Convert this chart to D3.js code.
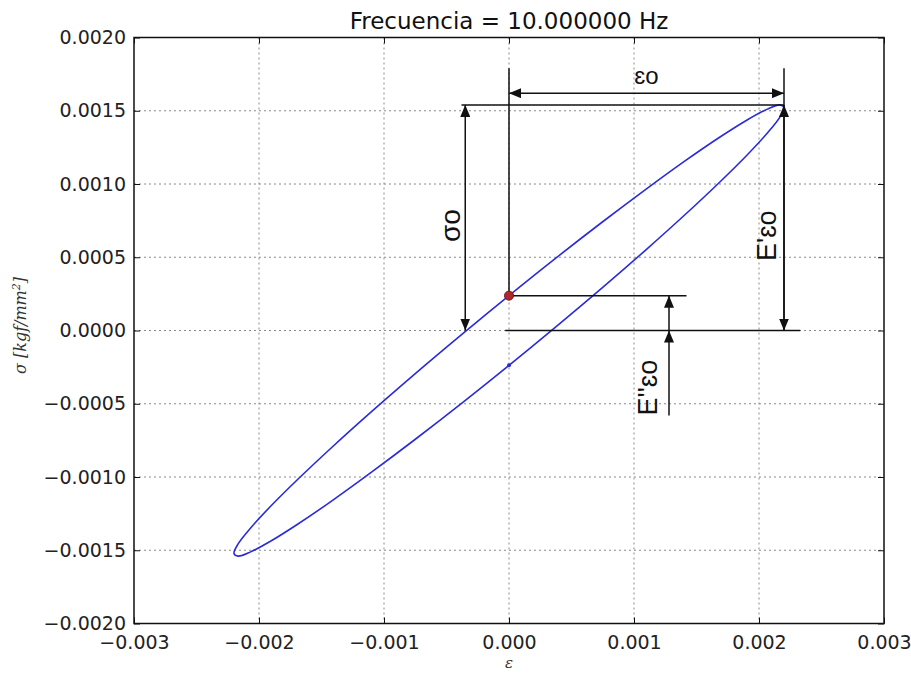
<!DOCTYPE html>
<html>
<head>
<meta charset="utf-8">
<script src="https://cdn.jsdelivr.net/npm/d3@7/dist/d3.min.js"></script>
<style>
  html, body { margin: 0; padding: 0; background: #fff; }
  svg { display: block; }
  .tick text { font-family: "DejaVu Sans", sans-serif; font-size: 19px; fill: #222; }
  .note { font-family: "Liberation Sans", Arial, sans-serif; fill: #111; }
</style>
</head>
<body>
<svg id="chart" width="911" height="677"></svg>
<script>
const WIDTH = 911;
const HEIGHT = 677;
const MARGIN = { top: 37.5, right: 27, bottom: 53.5, left: 134 };

const TITLE = "Frecuencia = 10.000000 Hz";
const X_TICKS = [-0.003, -0.002, -0.001, 0, 0.001, 0.002, 0.003];
const Y_TICKS = [-0.002, -0.0015, -0.001, -0.0005, 0, 0.0005, 0.001, 0.0015, 0.002];

// one full loop of the response, strain vs stress
const strain = [
  0, 0.000382, 0.000752, 0.001100, 0.001414, 0.001685, 0.001905, 0.002067, 0.002167,
  0.002200, 0.002167, 0.002067, 0.001905, 0.001685, 0.001414, 0.001100, 0.000752, 0.000382,
  0, -0.000382, -0.000752, -0.001100, -0.001414, -0.001685, -0.001905, -0.002067, -0.002167,
  -0.002200, -0.002167, -0.002067, -0.001905, -0.001685, -0.001414, -0.001100, -0.000752, -0.000382
];
const stress = [
  0.000238, 0.000499, 0.000744, 0.000967, 0.001161, 0.001319, 0.001437, 0.001511, 0.001540,
  0.001522, 0.001457, 0.001348, 0.001198, 0.001012, 0.000795, 0.000554, 0.000296, 0.000030,
  -0.000238, -0.000499, -0.000744, -0.000967, -0.001161, -0.001319, -0.001437, -0.001511, -0.001540,
  -0.001522, -0.001457, -0.001348, -0.001198, -0.001012, -0.000795, -0.000554, -0.000296, -0.000030
];

// amplitudes used by the dimension arrows
const EPS0 = 0.0022;       // strain amplitude
const SIGMA0 = 0.00154;    // stress amplitude
const E2_EPS0 = 0.000238;  // stress at zero strain

const svg = d3.select("#chart");
const innerW = WIDTH - MARGIN.left - MARGIN.right;
const innerH = HEIGHT - MARGIN.top - MARGIN.bottom;

const x = d3.scaleLinear().domain([-0.003, 0.003]).range([MARGIN.left, MARGIN.left + innerW]);
const y = d3.scaleLinear().domain([-0.002, 0.002]).range([MARGIN.top + innerH, MARGIN.top]);

// arrowhead
const defs = svg.append("defs");
defs.append("marker")
  .attr("id", "head")
  .attr("viewBox", "0 0 12 10")
  .attr("refX", 12).attr("refY", 5)
  .attr("markerWidth", 12).attr("markerHeight", 10)
  .attr("markerUnits", "userSpaceOnUse")
  .attr("orient", "auto-start-reverse")
  .append("path").attr("d", "M0,0 L12,5 L0,10 Z").attr("fill", "#111");

// grid
const grid = svg.append("g").attr("stroke", "#8a8a8a").attr("stroke-width", 1).attr("stroke-dasharray", "2,3");
grid.selectAll(".gx").data(X_TICKS.slice(1, -1)).enter().append("line")
  .attr("x1", d => x(d)).attr("x2", d => x(d))
  .attr("y1", MARGIN.top).attr("y2", MARGIN.top + innerH);
grid.selectAll(".gy").data(Y_TICKS.slice(1, -1)).enter().append("line")
  .attr("x1", MARGIN.left).attr("x2", MARGIN.left + innerW)
  .attr("y1", d => y(d)).attr("y2", d => y(d));

// axes, ticks pointing inward
const fmtX = v => d3.format(".3f")(v).replace("-", "\u2212");
const fmtY = v => d3.format(".4f")(v).replace("-", "\u2212");

const xAxis = svg.append("g")
  .attr("transform", `translate(0, ${MARGIN.top + innerH})`)
  .call(d3.axisBottom(x).tickValues(X_TICKS).tickSize(-6).tickPadding(12).tickFormat(fmtX));
svg.append("g")
  .attr("transform", `translate(${MARGIN.left}, 0)`)
  .call(d3.axisLeft(y).tickValues(Y_TICKS).tickSize(-6).tickPadding(8).tickFormat(fmtY));
svg.append("g")
  .attr("transform", `translate(0, ${MARGIN.top})`)
  .call(d3.axisTop(x).tickValues(X_TICKS).tickSize(-6).tickFormat(""));
svg.append("g")
  .attr("transform", `translate(${MARGIN.left + innerW}, 0)`)
  .call(d3.axisRight(y).tickValues(Y_TICKS).tickSize(-6).tickFormat(""));

svg.selectAll(".domain").remove();
svg.selectAll(".tick line").attr("stroke", "#111");
xAxis.selectAll(".tick text").attr("dy", "0.71em");

svg.append("rect")
  .attr("x", MARGIN.left).attr("y", MARGIN.top)
  .attr("width", innerW).attr("height", innerH)
  .attr("fill", "none").attr("stroke", "#111").attr("stroke-width", 1.5);

// hysteresis loop
const loop = strain.map((e, i) => [e, stress[i]]);
svg.append("path")
  .datum(loop)
  .attr("fill", "none")
  .attr("stroke", "#2b2bd9")
  .attr("stroke-width", 1.6)
  .attr("d", d3.line().x(d => x(d[0])).y(d => y(d[1])).curve(d3.curveCatmullRomClosed.alpha(0.5)));

// start point of the loop
svg.append("circle")
  .attr("cx", x(strain[18])).attr("cy", y(stress[18])).attr("r", 2)
  .attr("fill", "#2b2bd9");

// dimension lines
const ann = svg.append("g").attr("stroke", "#111").attr("stroke-width", 1.5).attr("fill", "none");
const seg = (x1, y1, x2, y2) => ann.append("line")
  .attr("x1", x(x1)).attr("y1", y(y1)).attr("x2", x(x2)).attr("y2", y(y2));

// extension lines
seg(0, E2_EPS0, 0, 0.00179);
seg(EPS0, 0, EPS0, 0.00179);
seg(-0.00038, SIGMA0, EPS0, SIGMA0);
seg(-0.00003, 0, 0.00233, 0);
seg(0, E2_EPS0, 0.00142, E2_EPS0);

// eps0 arrow
seg(0, 0.00162, EPS0, 0.00162).attr("marker-start", "url(#head)").attr("marker-end", "url(#head)");
// sigma0 arrow
seg(-0.00035, SIGMA0, -0.00035, 0).attr("marker-start", "url(#head)").attr("marker-end", "url(#head)");
// E' eps0 arrow
seg(EPS0, SIGMA0, EPS0, 0).attr("marker-start", "url(#head)").attr("marker-end", "url(#head)");
// E'' eps0 arrows, pointing up from below
seg(0.00128, -0.00058, 0.00128, 0).attr("marker-end", "url(#head)");
seg(0.00128, 0, 0.00128, E2_EPS0).attr("marker-end", "url(#head)");

// marker at zero strain on the loop
svg.append("circle")
  .attr("cx", x(0)).attr("cy", y(E2_EPS0)).attr("r", 4.5)
  .attr("fill", "#b0262a").attr("stroke", "#7a1518").attr("stroke-width", 1);

// labels
svg.append("text").attr("class", "note")
  .attr("x", (x(0) + x(EPS0)) / 2).attr("y", 84)
  .attr("text-anchor", "middle").attr("font-size", 24)
  .text("\u025Bo");

svg.append("text").attr("class", "note")
  .attr("transform", `translate(${x(-0.00035) - 5}, ${y(SIGMA0 / 2) + 8}) rotate(-90)`)
  .attr("text-anchor", "middle").attr("font-size", 28)
  .text("\u03C3o");

svg.append("text").attr("class", "note")
  .attr("transform", `translate(${x(EPS0) - 8}, ${y(SIGMA0 / 2) + 18}) rotate(-90)`)
  .attr("text-anchor", "middle").attr("font-size", 27)
  .text("E'\u025Bo");

svg.append("text").attr("class", "note")
  .attr("transform", `translate(${x(0.00128) - 12}, ${y(-0.00039)}) rotate(-90)`)
  .attr("text-anchor", "middle").attr("font-size", 27)
  .text("E''\u025Bo");

// title and axis labels
svg.append("text")
  .attr("x", MARGIN.left + innerW / 2).attr("y", 29)
  .attr("text-anchor", "middle")
  .attr("font-family", "DejaVu Sans, sans-serif").attr("font-size", 23).attr("fill", "#111")
  .text(TITLE);

svg.append("text")
  .attr("x", x(0)).attr("y", 668)
  .attr("text-anchor", "middle")
  .attr("font-family", "DejaVu Serif, serif").attr("font-style", "italic")
  .attr("font-size", 15).attr("fill", "#333")
  .text("\u03B5");

const yl = svg.append("text")
  .attr("transform", `translate(26, ${y(0) - 5}) rotate(-90)`)
  .attr("text-anchor", "middle")
  .attr("font-family", "DejaVu Serif, serif").attr("font-style", "italic")
  .attr("font-size", 16).attr("fill", "#333");
yl.append("tspan").text("\u03C3 [kgf/mm");
yl.append("tspan").attr("dy", -6).attr("font-size", 11).text("2");
yl.append("tspan").attr("dy", 6).text("]");
</script>
</body>
</html>
